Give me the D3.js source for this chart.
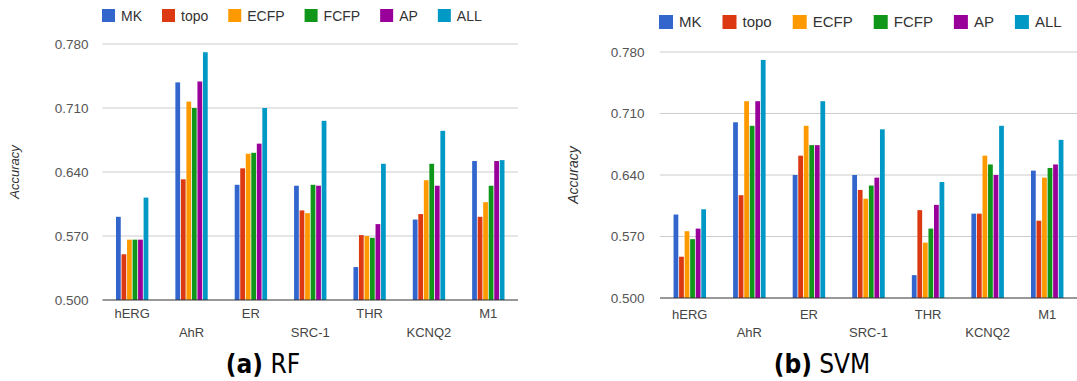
<!DOCTYPE html>
<html>
<head>
<meta charset="utf-8">
<script src="https://cdn.jsdelivr.net/npm/d3@7/dist/d3.min.js"></script>
<style>
  html, body { margin: 0; padding: 0; background: #fff; }
  svg { display: block; }
</style>
</head>
<body>
<svg id="chart" width="1077" height="381"></svg>
<script>
// Targets and descriptor sets
const categories = ["hERG", "AhR", "ER", "SRC-1", "THR", "KCNQ2", "M1"];
const seriesNames = ["MK", "topo", "ECFP", "FCFP", "AP", "ALL"];
const seriesColors = ["#3366cc", "#dc3912", "#ff9900", "#109618", "#990099", "#0099c6"];
const yTicks = [0.500, 0.570, 0.640, 0.710, 0.780];

// Random forest accuracy per target
const rfMK   = [0.591, 0.738, 0.626, 0.625, 0.536, 0.588, 0.652];
const rfTopo = [0.550, 0.632, 0.644, 0.598, 0.571, 0.594, 0.591];
const rfECFP = [0.566, 0.717, 0.660, 0.595, 0.570, 0.631, 0.607];
const rfFCFP = [0.566, 0.710, 0.661, 0.626, 0.568, 0.649, 0.625];
const rfAP   = [0.566, 0.739, 0.671, 0.625, 0.583, 0.625, 0.652];
const rfALL  = [0.612, 0.771, 0.710, 0.696, 0.649, 0.685, 0.653];

// SVM accuracy per target
const svmMK   = [0.595, 0.700, 0.640, 0.640, 0.526, 0.596, 0.645];
const svmTopo = [0.547, 0.617, 0.662, 0.623, 0.600, 0.596, 0.588];
const svmECFP = [0.576, 0.724, 0.696, 0.613, 0.563, 0.662, 0.637];
const svmFCFP = [0.567, 0.696, 0.674, 0.628, 0.579, 0.652, 0.648];
const svmAP   = [0.579, 0.724, 0.674, 0.637, 0.606, 0.640, 0.652];
const svmALL  = [0.601, 0.771, 0.724, 0.692, 0.632, 0.696, 0.680];

const panels = [
  {
    series: [rfMK, rfTopo, rfECFP, rfFCFP, rfAP, rfALL],
    captionTag: "(a)", captionText: " RF",
    x0: 102.5, x1: 518, yBottom: 300, yTop: 44,
    tickRight: 88.5, tickSize: 13.5,
    titleX: 19, titleSize: 13,
    legendX: 102, legendY: 15.5, legendSize: 14, legendBox: 13, legendGap: 20,
    catSize: 13, catRow1: 318, catRow2: 336.5,
    captionX: 263
  },
  {
    series: [svmMK, svmTopo, svmECFP, svmFCFP, svmAP, svmALL],
    captionTag: "(b)", captionText: " SVM",
    x0: 660, x1: 1077, yBottom: 298, yTop: 52,
    tickRight: 644.5, tickSize: 13.5,
    titleX: 578, titleSize: 14,
    legendX: 659, legendY: 22, legendSize: 15, legendBox: 14, legendGap: 21,
    catSize: 13, catRow1: 319, catRow2: 337,
    captionX: 822
  }
];

const svg = d3.select("#chart");
const FONT = "'Liberation Sans', Arial, Helvetica, sans-serif";

panels.forEach(p => {
  const g = svg.append("g");

  const y = d3.scaleLinear().domain([0.5, 0.78]).range([p.yBottom, p.yTop]);
  const xCat = d3.scaleBand().domain(categories).range([p.x0, p.x1])
    .paddingInner(0.455).paddingOuter(0.2275);
  const xSer = d3.scaleBand().domain(seriesNames).range([0, xCat.bandwidth()]).paddingInner(0.14);

  // horizontal gridlines
  g.append("g").selectAll("line").data(yTicks.slice(1)).join("line")
    .attr("x1", p.x0).attr("x2", p.x1)
    .attr("y1", d => y(d)).attr("y2", d => y(d))
    .attr("stroke", "#cccccc").attr("stroke-width", 1);

  // y tick labels via axis generator
  const yAxis = d3.axisLeft(y).tickValues(yTicks).tickFormat(d3.format(".3f")).tickSize(0).tickPadding(0);
  const ya = g.append("g").attr("transform", `translate(${p.tickRight},0)`).call(yAxis);
  ya.select(".domain").remove();
  ya.selectAll("text").attr("font-family", FONT).attr("font-size", p.tickSize).attr("fill", "#555");

  // bars
  const groups = g.append("g").selectAll("g").data(categories).join("g")
    .attr("transform", d => `translate(${xCat(d)},0)`);
  groups.selectAll("rect")
    .data((c, ci) => seriesNames.map((s, si) => ({ s, si, v: p.series[si][ci] })))
    .join("rect")
    .attr("x", d => xSer(d.s))
    .attr("width", xSer.bandwidth())
    .attr("y", d => y(d.v))
    .attr("height", d => y(0.5) - y(d.v))
    .attr("fill", d => seriesColors[d.si]);

  // baseline
  g.append("line").attr("x1", p.x0).attr("x2", p.x1)
    .attr("y1", y(0.5)).attr("y2", y(0.5))
    .attr("stroke", "#333").attr("stroke-width", 1.2);

  // category labels, staggered on two rows
  g.append("g").selectAll("text").data(categories).join("text")
    .attr("x", d => xCat(d) + xCat.bandwidth() / 2)
    .attr("y", (d, i) => i % 2 === 0 ? p.catRow1 : p.catRow2)
    .attr("text-anchor", "middle")
    .attr("font-family", FONT).attr("font-size", p.catSize).attr("fill", "#444")
    .text(d => d);

  // y axis title
  g.append("text")
    .attr("transform", `translate(${p.titleX},${(p.yTop + p.yBottom) / 2}) rotate(-90)`)
    .attr("text-anchor", "middle")
    .attr("font-family", FONT).attr("font-size", p.titleSize)
    .attr("font-style", "italic").attr("fill", "#333")
    .text("Accuracy");

  // legend
  const lg = g.append("g");
  let lx = p.legendX;
  seriesNames.forEach((name, i) => {
    lg.append("rect").attr("x", lx).attr("y", p.legendY - p.legendBox / 2)
      .attr("width", p.legendBox).attr("height", p.legendBox).attr("fill", seriesColors[i]);
    const t = lg.append("text").attr("x", lx + p.legendBox + 6).attr("y", p.legendY)
      .attr("dy", "0.36em")
      .attr("font-family", FONT).attr("font-size", p.legendSize).attr("fill", "#333")
      .text(name);
    lx += p.legendBox + 6 + t.node().getComputedTextLength() + p.legendGap;
  });

  // caption
  const cap = g.append("text").attr("x", p.captionX).attr("y", 373)
    .attr("text-anchor", "middle")
    .attr("font-family", "'DejaVu Sans Condensed', 'DejaVu Sans', sans-serif")
    .attr("font-size", 26).attr("fill", "#000");
  cap.append("tspan").attr("font-weight", "bold").text(p.captionTag);
  cap.append("tspan").text(p.captionText);
});
</script>
</body>
</html>
